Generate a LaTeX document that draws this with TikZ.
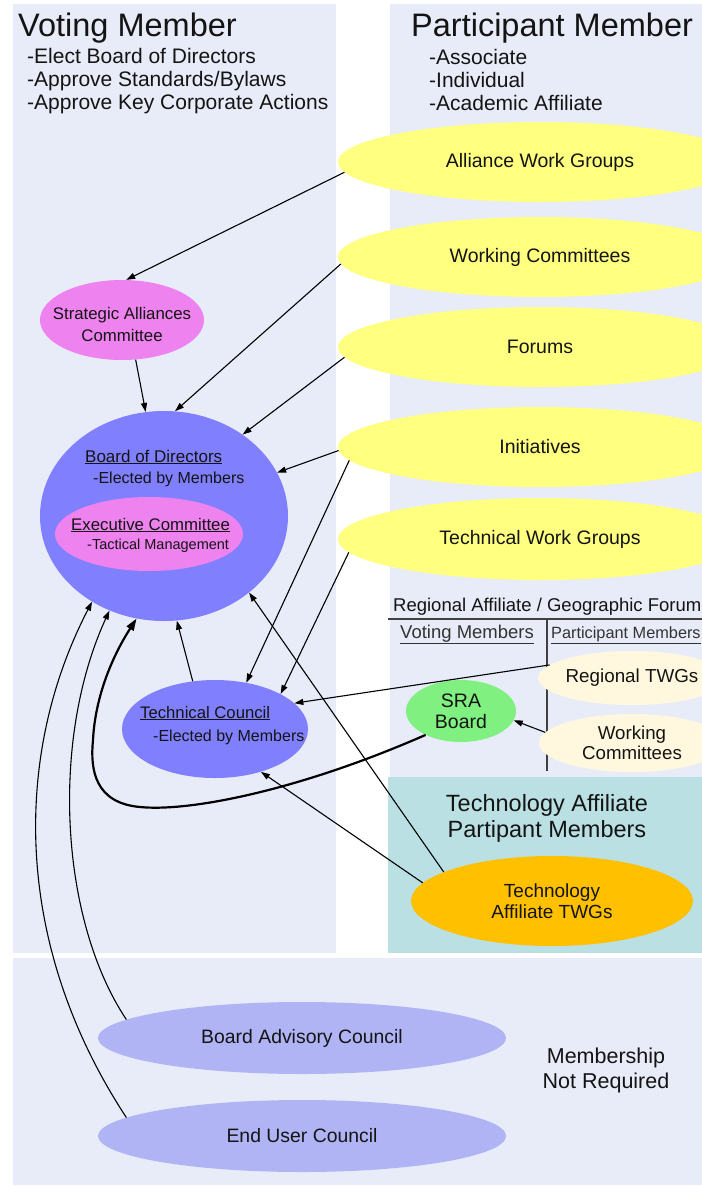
\documentclass[tikz,border=0pt]{standalone}
\usepackage{fontspec}
\setmainfont{Liberation Sans}
\usetikzlibrary{shapes.geometric,arrows.meta}
\definecolor{panel}{RGB}{232,236,248}
\definecolor{tealbox}{RGB}{186,224,228}
\definecolor{yel}{RGB}{255,255,128}
\definecolor{pinkish}{RGB}{238,130,238}
\definecolor{boardblue}{RGB}{128,128,255}
\definecolor{paleblue}{RGB}{176,180,245}
\definecolor{sragreen}{RGB}{128,240,128}
\definecolor{cream}{RGB}{255,248,222}
\definecolor{orangetw}{RGB}{255,192,0}
\definecolor{txt}{RGB}{20,20,20}
\newcommand\fs[2]{\fontsize{#1}{#2}\selectfont}
\begin{document}
\begin{tikzpicture}[x=1pt,y=-1pt,
  ell/.style={ellipse, inner sep=0pt, draw=none, text=txt, align=center},
  conn/.style={line width=1.1pt, draw=black, -{Triangle[length=9pt,width=6pt]}},
  thickconn/.style={line width=2.2pt, draw=black, -{Triangle[length=12pt,width=8pt]}},
  lbl/.style={inner sep=0pt, anchor=base west, text=txt},
  divider/.style={line width=1.2pt, draw=black!75}
]
\useasboundingbox (0,0) rectangle (702,1187);
\clip (0,0) rectangle (702,1187);
\fill[white] (0,0) rectangle (702,1187);
% panels
\fill[panel] (13,4) rectangle (336,953);
\fill[panel] (390,4) rectangle (702,777);
\fill[tealbox] (388,777) rectangle (702,953);
\fill[panel] (13,958) rectangle (702,1185);

% headers
\node[lbl, font=\fs{32.5}{36}] (vmh) at (18,36) {Voting Member};
\node[lbl, font=\fs{21}{23}] (vm1) at (27,63) {-Elect Board of Directors};
\node[lbl, font=\fs{21}{23}] (vm2) at (27,86) {-Approve Standards/Bylaws};
\node[lbl, font=\fs{21}{23}] (vm3) at (27,109) {-Approve Key Corporate Actions};
\node[lbl, font=\fs{32.5}{36}] (pmh) at (411,36) {Participant Member};
\node[lbl, font=\fs{21}{23}] (pm1) at (429,64) {-Associate};
\node[lbl, font=\fs{21}{23}] (pm2) at (429,87) {-Individual};
\node[lbl, font=\fs{21}{23}] (pm3) at (429,110) {-Academic Affiliate};

% yellow ellipses
\node[ell, fill=yel, minimum width=404pt, minimum height=80pt, font=\fs{19.5}{23}] (awg) at (540,162) {Alliance Work Groups};
\node[ell, fill=yel, minimum width=404pt, minimum height=80pt, font=\fs{19.5}{23}] (wc) at (540,257) {Working Committees};
\node[ell, fill=yel, minimum width=404pt, minimum height=80pt, font=\fs{19.5}{23}] (for) at (540,347) {Forums};
\node[ell, fill=yel, minimum width=404pt, minimum height=80pt, font=\fs{19.5}{23}] (ini) at (540,447) {Initiatives};
\node[ell, fill=yel, minimum width=404pt, minimum height=82pt, font=\fs{19.5}{23}] (twg) at (540,539) {Technical Work Groups};

% left column
\node[ell, fill=pinkish, minimum width=164pt, minimum height=80pt] (sac) at (122,320) {};
\node[inner sep=0pt, align=center, text=txt, font=\fs{16.8}{22}] (sact) at (122,324) {Strategic Alliances\\Committee};
\node[ell, fill=boardblue, minimum width=248pt, minimum height=210pt] (bod) at (164,516) {};
\node[lbl, font=\fs{17}{20}] (bodt) at (85,462) {\underline{Board of Directors}};
\node[lbl, font=\fs{16}{20}] (bode) at (93,483) {-Elected by Members};
\node[ell, fill=pinkish, minimum width=188pt, minimum height=74pt] (exec) at (149,534) {};
\node[lbl, font=\fs{16.8}{20}] (exect) at (71,530) {\underline{Executive Committee}};
\node[lbl, font=\fs{14.5}{18}] (execm) at (87,549) {-Tactical Management};
\node[ell, fill=boardblue, minimum width=186pt, minimum height=98pt] (tc) at (215,729) {};
\node[lbl, font=\fs{16.7}{20}] (tct) at (140,718) {\underline{Technical Council}};
\node[lbl, font=\fs{16}{20}] (tce) at (153,741) {-Elected by Members};

% regional affiliate section
\node[lbl, font=\fs{18.5}{22}] (rah) at (393,611) {Regional Affiliate / Geographic Forum};
\coordinate (hl1) at (388,619);
\coordinate (hl2) at (702,619);
\coordinate (vl1) at (547,619);
\coordinate (vl2) at (547,771);
\draw[divider] (hl1) -- (hl2);
\draw[divider] (vl1) -- (vl2);
\node[lbl, font=\fs{18.5}{22}, text=black!80] (vmem) at (400,638) {\underline{Voting Members}};
\node[lbl, font=\fs{16.3}{22}, text=black!80] (pmem) at (551,638) {\underline{Participant Members}};
\node[ell, fill=cream, minimum width=186pt, minimum height=54pt, font=\fs{18.8}{22}] (rtwg) at (632,678) {Regional TWGs};
\node[ell, fill=cream, minimum width=186pt, minimum height=58pt, font=\fs{18.7}{20}] (wcs) at (632,743) {Working\\Committees};
\node[ell, fill=sragreen, minimum width=110pt, minimum height=62pt, font=\fs{19.5}{21}] (sra) at (461,711) {SRA\\Board};

% technology affiliate
\node[inner sep=0pt, align=center, text=txt, font=\fs{23.5}{26}] (tah) at (547,818) {Technology Affiliate\\Partipant Members};
\node[ell, fill=orangetw, minimum width=282pt, minimum height=90pt, font=\fs{19}{21}] (tat) at (552,901) {Technology\\Affiliate TWGs};

% bottom
\node[ell, fill=paleblue, minimum width=408pt, minimum height=72pt, font=\fs{19.4}{22}] (bac) at (302,1038) {Board Advisory Council};
\node[ell, fill=paleblue, minimum width=408pt, minimum height=72pt, font=\fs{19.4}{22}] (euc) at (302,1136) {End User Council};
\node[inner sep=0pt, align=center, text=txt, font=\fs{21.5}{25}] (mnr) at (606,1070) {Membership\\Not Required};

% connectors
\draw[conn] (awg.183) -- (sac.84);
\draw[conn] (sac.-71) -- (bod.100);
\draw[conn] (wc.182) -- (bod.84);
\draw[conn] (for.183) -- (bod.46);
\draw[conn] (ini.181) -- (bod.21);
\draw[conn] (ini.184) -- (tc.56);
\draw[conn] (twg.184) -- (tc.28);
\draw[conn] (rtwg.171) -- (tc.18);
\draw[conn] (wcs.173) -- (sra.-10);
\draw[conn] (tc.115) -- (bod.-83);
\draw[conn] (tat.165) -- (bod.-42);
\draw[conn] (tat.172) -- (tc.-43);
\draw[conn] (bac.174) .. controls (60,920) and (50,740) .. (bod.240);
\draw[conn] (euc.174) .. controls (10,940) and (15,750) .. (bod.230);
\draw[thickconn] (sra.214) .. controls (300,790) and (190,812) .. (140,807)
   .. controls (95,803) and (90,770) .. (93,740)
   .. controls (95,700) and (110,660) .. (bod.255);
\end{tikzpicture}
\end{document}
